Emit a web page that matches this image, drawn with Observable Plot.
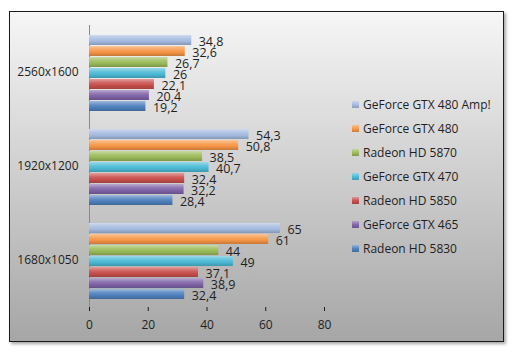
<!DOCTYPE html>
<html>
<head>
<meta charset="utf-8">
<script src="https://cdn.jsdelivr.net/npm/d3@7"></script>
<script src="https://cdn.jsdelivr.net/npm/@observablehq/plot@0.6"></script>
<style>
  body { margin: 0; background: #fff; font-family: "Open Sans", sans-serif; }
  #wrap { position: relative; width: 514px; height: 354px; overflow: hidden; }
  #box { position: absolute; left: 9px; top: 11px; width: 493px; height: 329px;
         border: 1px solid #1a1a1a; background: linear-gradient(#f6f6f6, #a6a6a6);
         box-shadow: 2px 2px 3px rgba(0,0,0,.35); }
  #chart { position: absolute; left: 0; top: 0; }
  #legend { position: absolute; left: 352px; top: 92px; font-size: 12px; color: #1f1f1f; }
  #legend .row { height: 24px; display: flex; align-items: center; white-space: nowrap; }
  #legend .sw { width: 7px; height: 7px; margin-right: 4px; }
</style>
</head>
<body>
<div id="wrap">
  <div id="box"></div>
  <div id="chart"></div>
  <div id="legend"></div>
</div>
<script>
const resolutions = ["2560x1600", "1920x1200", "1680x1050"];
const cards = ["GeForce GTX 480 Amp!", "GeForce GTX 480", "Radeon HD 5870", "GeForce GTX 470", "Radeon HD 5850", "GeForce GTX 465", "Radeon HD 5830"];
const colors = ["#a5bbe0", "#f79646", "#9bbb59", "#4bbad6", "#c8504d", "#8064a8", "#4f81bd"];
const fps2560 = [34.8, 32.6, 26.7, 26, 22.1, 20.4, 19.2];
const fps1920 = [54.3, 50.8, 38.5, 40.7, 32.4, 32.2, 28.4];
const fps1680 = [65, 61, 44, 49, 37.1, 38.9, 32.4];
const xTicks = [0, 20, 40, 60, 80];

const series = [fps2560, fps1920, fps1680];
const rows = [];
resolutions.forEach((res, r) => cards.forEach((card, c) => rows.push({res, card, fps: series[r][c]})));

const gradIds = cards.map((_, i) => `url(#barGrad${i})`);
const fmt = v => String(v).replace(".", ",");

const boundaryMark = Plot.dot(resolutions, {
  fy: d => d,
  render: (index, scales, values, dims) => {
    const g = d3.create("svg:g").attr("stroke", "#8a8a8a").attr("fill", "none");
    const yr = (scales.scales && scales.scales.y && scales.scales.y.range) || [dims.marginTop, dims.height - dims.marginBottom];
    const y0 = Math.min(...yr), y1 = Math.max(...yr);
    const x0 = scales.x(0);
    for (const yy of [y0, y1]) {
      g.append("line").attr("x1", x0 - 4).attr("x2", x0).attr("y1", yy + 0.5).attr("y2", yy + 0.5);
    }
    if (index.length && resolutions[index[0]] === resolutions[resolutions.length - 1]) {
      g.append("line").attr("x1", x0).attr("x2", scales.x(xTicks[xTicks.length - 1]))
        .attr("y1", y1 + 0.5).attr("y2", y1 + 0.5);
    }
    return g.node();
  }
});

const chart = Plot.plot({
  width: 514,
  height: 354,
  marginLeft: 89,
  marginRight: 190,
  marginTop: 25,
  marginBottom: 47,
  style: { background: "transparent", fontFamily: "Open Sans, sans-serif", fontSize: "12px", color: "#1f1f1f" },
  x: { domain: [0, 80], ticks: xTicks, tickSize: 4, tickPadding: 9, label: null, tickFormat: d => String(d) },
  y: { domain: cards, paddingInner: 0.05, paddingOuter: 0.72, align: 0.56, axis: null },
  fy: { domain: resolutions, padding: 0, label: null, tickSize: 0, tickPadding: 11 },
  color: { type: "ordinal", domain: cards, range: gradIds },
  marks: [
    Plot.ruleX([0], { stroke: "#8a8a8a" }),
    boundaryMark,
    Plot.barX(rows, { fy: "res", y: "card", x: "fps", fill: "card" }),
    Plot.text(rows, { fy: "res", y: "card", x: "fps", text: d => fmt(d.fps), dx: 7, dy: 1, textAnchor: "start", fill: "#1f1f1f", fontSize: 12.5 })
  ]
});

// gradients giving the bars their bevelled look
const defs = d3.select(chart).insert("defs", ":first-child");
colors.forEach((c, i) => {
  const lg = defs.append("linearGradient").attr("id", `barGrad${i}`).attr("x1", 0).attr("y1", 0).attr("x2", 0).attr("y2", 1);
  const base = d3.color(c);
  lg.append("stop").attr("offset", "0%").attr("stop-color", d3.interpolateRgb(c, "#fff")(0.45));
  lg.append("stop").attr("offset", "40%").attr("stop-color", d3.interpolateRgb(c, "#fff")(0.1));
  lg.append("stop").attr("offset", "60%").attr("stop-color", base.formatHex());
  lg.append("stop").attr("offset", "100%").attr("stop-color", base.darker(0.6).formatHex());
});
document.getElementById("chart").appendChild(chart);

const legend = d3.select("#legend");
cards.forEach((card, i) => {
  const row = legend.append("div").attr("class", "row");
  row.append("div").attr("class", "sw")
    .style("background", `linear-gradient(${d3.interpolateRgb(colors[i], "#fff")(0.4)}, ${colors[i]} 55%, ${d3.color(colors[i]).darker(0.5).formatHex()})`);
  row.append("span").text(card);
});
</script>
</body>
</html>
